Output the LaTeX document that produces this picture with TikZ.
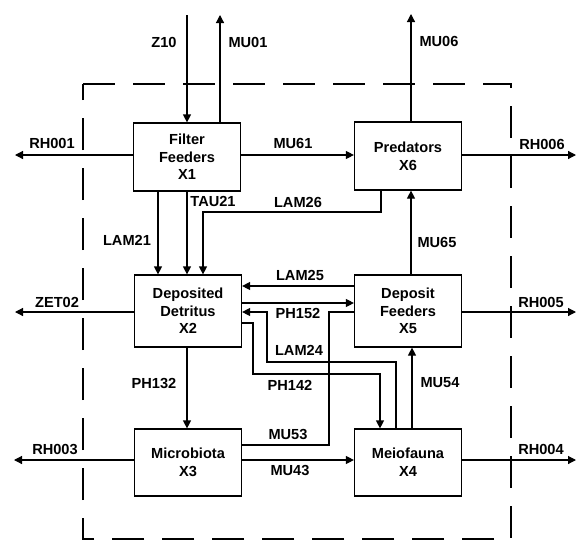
\documentclass[tikz,border=0pt]{standalone}
\usepackage{fontspec}
\setmainfont{Liberation Sans}
\usetikzlibrary{arrows.meta}
\begin{document}
\begin{tikzpicture}[x=1pt,y=-1pt,
  box/.style={draw, line width=1.2pt, minimum width=107pt, align=center, inner sep=0pt,
    font=\fontsize{14.6}{17.6}\selectfont\bfseries},
  lbl/.style={font=\fontsize{14.6}{17}\selectfont\bfseries, inner sep=0pt},
  flow/.style={line width=1.2pt, -{Triangle[length=8pt,width=8pt]}},
  plain/.style={line width=1.2pt},
  sysb/.style={line width=1.2pt, dash pattern=on 32pt off 18pt}]
\useasboundingbox (0,0) rectangle (578,541);
\fill[white] (0,0) rectangle (578,541);
% system boundary
\draw[sysb] (83,84) -- (511,84) -- (511,539) -- (83,539) -- cycle;
% compartments
\node[box, minimum height=68pt] (ff) at (187,157) {Filter\\Feeders\\X1};
\node[box, minimum height=68pt] (pr) at (408,156) {Predators\\X6};
\node[box, minimum height=72pt] (dd) at (188,311) {Deposited\\Detritus\\X2};
\node[box, minimum height=72pt] (df) at (408,311) {Deposit\\Feeders\\X5};
\node[box, minimum height=67pt] (mb) at (188,462.5) {Microbiota\\X3};
\node[box, minimum height=67pt] (mf) at (408,462.5) {Meiofauna\\X4};
% helper coordinates
\coordinate (z10s) at (187,15);
\coordinate (mu01e) at (220,15);
\coordinate (rh001e) at (15,155);
\coordinate (rh006e) at (576,155);
\coordinate (mu06e) at (411,14);
\coordinate (xlam21) at (158,0);
\coordinate (xtau) at (187,0);
\coordinate (l26a) at (381,212);
\coordinate (l26b) at (203,212);
\coordinate (y25) at (0,286);
\coordinate (y152) at (0,303);
\coordinate (l24a) at (396,362);
\coordinate (l24b) at (267,362);
\coordinate (l24c) at (267,312);
\coordinate (p142a) at (253,323);
\coordinate (p142b) at (253,374);
\coordinate (p142c) at (380,374);
\coordinate (m53a) at (329,445);
\coordinate (m53b) at (329,312);
\coordinate (x54) at (412,0);
\coordinate (y43) at (0,460);
\coordinate (rh003e) at (14,460);
\coordinate (rh004e) at (576,460);
\coordinate (zet) at (15,312);
\coordinate (rh005e) at (576,312);
% flows
\draw[flow] (z10s) -- (z10s |- ff.north);
\draw[flow] (mu01e |- ff.north) -- (mu01e);
\draw[flow] (ff.west |- rh001e) -- (rh001e);
\draw[flow] (ff.east |- rh001e) -- (pr.west |- rh001e);
\draw[flow] (pr.east |- rh006e) -- (rh006e);
\draw[flow] (mu06e |- pr.north) -- (mu06e);
\draw[flow] (ff.south -| xlam21) -- (dd.north -| xlam21);
\draw[flow] (ff.south -| xtau) -- (dd.north -| xtau);
\draw[flow] (pr.south -| l26a) -- (l26a) -- (l26b) -- (dd.north -| l26b);
\draw[flow] (df.north -| mu06e) -- (pr.south -| mu06e);
\draw[flow] (df.west |- y25) -- (dd.east |- y25);
\draw[flow] (dd.east |- y152) -- (df.west |- y152);
\draw[flow] (mf.north -| l24a) -- (l24a) -- (l24b) -- (l24c) -- (dd.east |- l24c);
\draw[flow] (dd.east |- p142a) -- (p142a) -- (p142b) -- (p142c) -- (mf.north -| p142c);
\draw[plain] (mb.east |- m53a) -- (m53a) -- (m53b) -- (df.west |- m53b);
\draw[flow] (mf.north -| x54) -- (df.south -| x54);
\draw[flow] (dd.south -| xtau) -- (mb.north -| xtau);
\draw[flow] (mb.east |- y43) -- (mf.west |- y43);
\draw[flow] (mb.west |- rh003e) -- (rh003e);
\draw[flow] (mf.east |- rh004e) -- (rh004e);
\draw[flow] (dd.west |- zet) -- (zet);
\draw[flow] (df.east |- rh005e) -- (rh005e);
% labels
\node[lbl] (tz10) at (164,42) {Z10};
\node[lbl] (tmu01) at (248,42) {MU01};
\node[lbl] (tmu06) at (439,41) {MU06};
\node[lbl] (trh001) at (52,143) {RH001};
\node[lbl] (tmu61) at (293,143) {MU61};
\node[lbl] (trh006) at (542,144) {RH006};
\node[lbl] (ttau21) at (213,201) {TAU21};
\node[lbl] (tlam26) at (298,202) {LAM26};
\node[lbl] (tlam21) at (127,240) {LAM21};
\node[lbl] (tmu65) at (437,242) {MU65};
\node[lbl] (tlam25) at (300,275) {LAM25};
\node[lbl] (tzet02) at (57,302) {ZET02};
\node[lbl] (trh005) at (541,302) {RH005};
\node[lbl] (tph152) at (298,313) {PH152};
\node[lbl] (tlam24) at (299,350) {LAM24};
\node[lbl] (tph142) at (290,385) {PH142};
\node[lbl] (tph132) at (154,383) {PH132};
\node[lbl] (tmu54) at (440,383) {MU54};
\node[lbl] (tmu53) at (288,434) {MU53};
\node[lbl] (trh003) at (55,449) {RH003};
\node[lbl] (trh004) at (541,449) {RH004};
\node[lbl] (tmu43) at (290,470) {MU43};
\end{tikzpicture}
\end{document}
